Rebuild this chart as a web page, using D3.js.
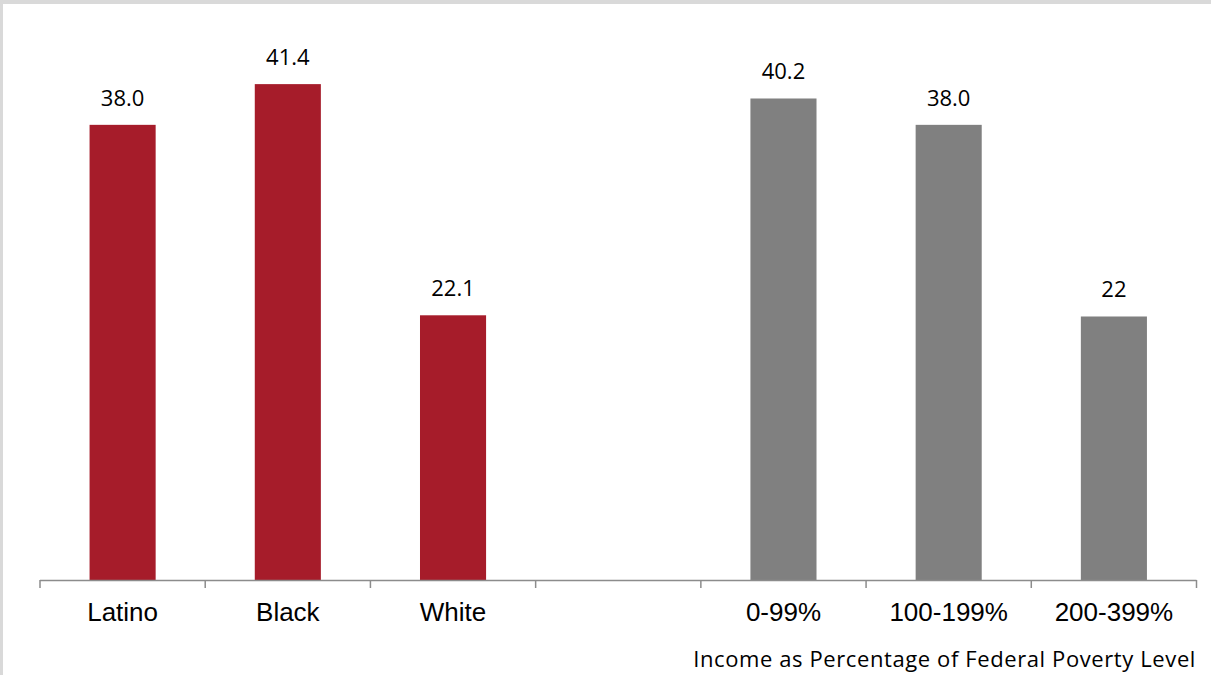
<!DOCTYPE html>
<html><head><meta charset="utf-8">
<script src="https://cdn.jsdelivr.net/npm/d3@7"></script>
<style>html,body{margin:0;padding:0;background:#fff;}svg{display:block;}</style>
</head><body>
<svg id="chart" width="1211" height="675"></svg>
<script>
const categories = ["Latino", "Black", "White", "", "0-99%", "100-199%", "200-399%"];
const groups = ["race", "race", "race", null, "income", "income", "income"];
const values = [38.0, 41.4, 22.1, null, 40.2, 38.0, 22];
const valueLabels = ["38.0", "41.4", "22.1", "", "40.2", "38.0", "22"];
const axisTitle = "Income as Percentage of Federal Poverty Level";

const colors = {race: "#A61C2A", income: "#808080"};

const svg = d3.select("#chart");
// frame
svg.append("rect").attr("x", 0).attr("y", 0).attr("width", 1211).attr("height", 4).attr("fill", "#D9D9D9");
svg.append("rect").attr("x", 0).attr("y", 0).attr("width", 3).attr("height", 675).attr("fill", "#D9D9D9");

const x = d3.scaleBand().domain(d3.range(categories.length)).range([40, 1196.5]).paddingInner(0.6).paddingOuter(0.3);
const y = d3.scaleLinear().domain([0, 45]).range([580, 41]);

const data = categories.map((c, i) => ({c, i, v: values[i], g: groups[i], lab: valueLabels[i]})).filter(d => d.v != null);

svg.selectAll("rect.bar").data(data).enter().append("rect")
  .attr("class", "bar")
  .attr("x", d => x(d.i)).attr("width", x.bandwidth())
  .attr("y", d => y(d.v)).attr("height", d => y(0) - y(d.v))
  .attr("fill", d => colors[d.g]);

svg.selectAll("text.val").data(data).enter().append("text")
  .attr("class", "val")
  .attr("x", d => x(d.i) + x.bandwidth() / 2)
  .attr("y", d => y(d.v) - 19)
  .attr("text-anchor", "middle")
  .attr("font-family", "'Open Sans'").attr("font-size", 22).attr("fill", "#000")
  .text(d => d.lab);

// axis
const x0 = 40, x1 = 1196.5;
const ax = svg.append("g");
ax.append("line").attr("x1", x0).attr("x2", x1).attr("y1", 580.5).attr("y2", 580.5).attr("stroke", "#8C8C8C").attr("stroke-width", 1.5);
const bounds = d3.range(categories.length + 1).map(k => x0 + k * (x1 - x0) / categories.length);
ax.selectAll("line.tick").data(bounds).enter().append("line")
  .attr("class", "tick")
  .attr("x1", d => d).attr("x2", d => d).attr("y1", 580).attr("y2", 588)
  .attr("stroke", "#8C8C8C").attr("stroke-width", 1.5);

const xa = svg.append("g").attr("transform", "translate(0,580)")
  .call(d3.axisBottom(x).tickSize(0).tickFormat(i => categories[i]));
xa.select(".domain").remove();
xa.selectAll("text").attr("font-family", "'Liberation Sans', Arial").attr("font-size", 26).attr("fill", "#000").attr("dy", null).attr("y", 41);

svg.append("text").attr("x", 1196).attr("y", 667).attr("text-anchor", "end")
  .attr("font-family", "'Open Sans'").attr("font-size", 22).attr("letter-spacing", 0.6).attr("fill", "#000")
  .text(axisTitle);
</script>
</body></html>
